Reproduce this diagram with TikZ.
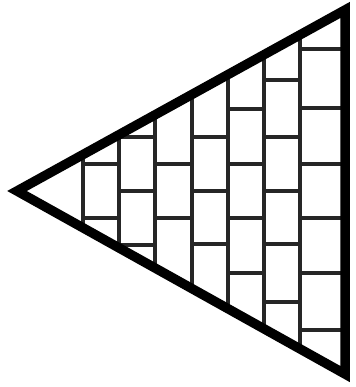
\documentclass[tikz,border=0pt]{standalone}
\usepackage{tikz}

\begin{document}
\begin{tikzpicture}[
    x=1pt, y=-1pt,
    outline/.style={line width=9.5pt, line join=miter, black},
    joint/.style={line width=3.2pt, black!85}
]
\useasboundingbox (0,0) rectangle (355,387);

% Corners of the triangle
\coordinate (tip) at (17,191);
\coordinate (top) at (345,10);
\coordinate (bot) at (345,374);

% Brick courses, kept inside the triangle
\begin{scope}
\clip (tip) -- (top) -- (bot) -- cycle;
\foreach \x in {83,119,155,192,228,264,300}
    \draw[joint] (\x,0) -- (\x,387);
\foreach \xa/\xb/\ys in {83/119/{164,218}, 119/155/{137,191,245}, 155/192/{164,218},
                         192/228/{137,191,244}, 228/264/{109,164,218,273},
                         264/300/{80,137,191,244,302}, 300/345/{49,108,164,218,273,330}}
    \foreach \y in \ys
        \draw[joint] (\xa,\y) -- (\xb,\y);
\end{scope}

% Outline on top
\draw[outline] (tip) -- (top) -- (bot) -- cycle;

\end{tikzpicture}
\end{document}
